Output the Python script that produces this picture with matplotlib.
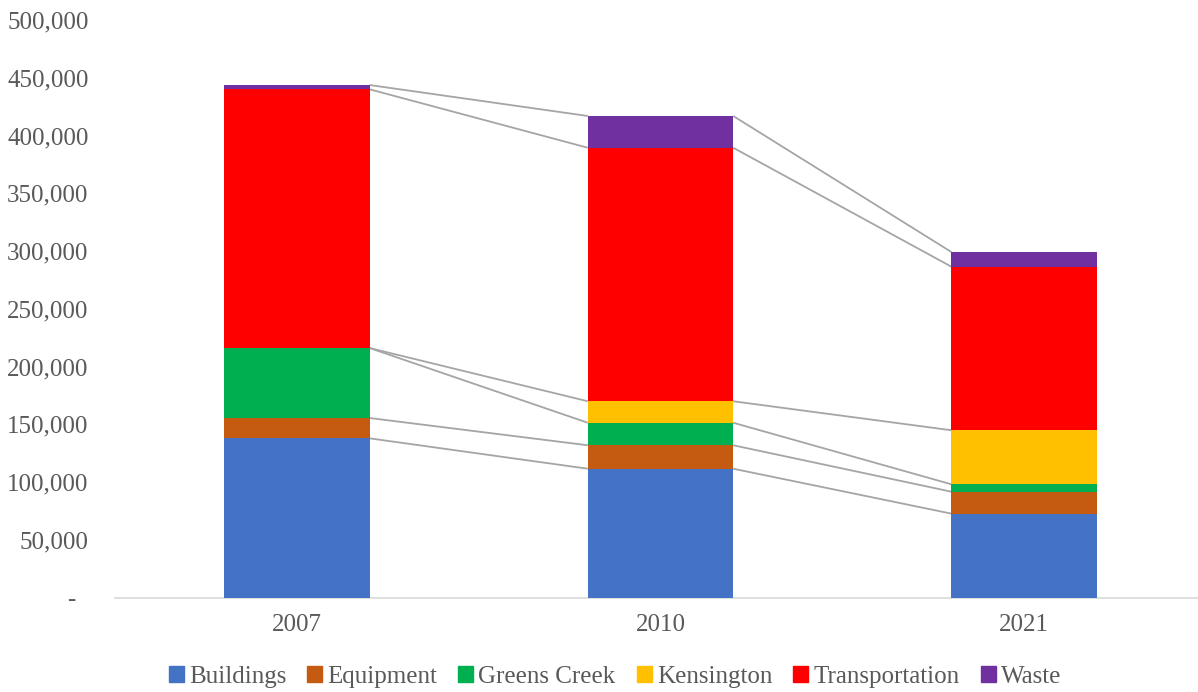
import numpy as np
import matplotlib
matplotlib.use("Agg")
from matplotlib import pyplot as plt
from matplotlib.patches import Patch

years = ["2007", "2010", "2021"]
series = ["Buildings", "Equipment", "Greens Creek", "Kensington", "Transportation", "Waste"]
buildings = [137800, 111500, 72600]
equipment = [17600, 20300, 19000]
greens_creek = [60600, 19500, 6400]
kensington = [0, 18600, 46800]
transportation = [224000, 219500, 141600]
waste = [3700, 27500, 12700]
colors = ["#4472C4", "#C55A11", "#00B050", "#FFC000", "#FF0000", "#7030A0"]
yticks = [0, 50000, 100000, 150000, 200000, 250000, 300000, 350000, 400000, 450000, 500000]

plt.rcParams["font.family"] = ["Liberation Serif", "DejaVu Serif"]

fig = plt.figure(figsize=(11.98, 6.92), dpi=100)
ax = fig.add_axes([115 / 1198, 1 - 597.5 / 692, 1 - 115 / 1198, (597.5 - 20) / 692])

data = np.array([buildings, equipment, greens_creek, kensington, transportation, waste], dtype=float)
x = np.arange(len(years))
width = 0.4
bottom = np.zeros(len(years))
for name, vals, c in zip(series, data, colors):
    ax.bar(x, vals, width, bottom=bottom, color=c, label=name, zorder=3)
    bottom = bottom + vals

# series lines between stacked tops
tops = np.cumsum(data, axis=0)
for row in tops:
    for i in range(len(years) - 1):
        ax.plot([x[i] + width / 2, x[i + 1] - width / 2], [row[i], row[i + 1]],
                color="#A5A5A5", lw=1.3, zorder=2, solid_capstyle="butt")

ax.set_xlim(-0.5, (1198 - 296) / 364)
ax.set_ylim(0, 500000)
ax.set_xticks(x)
ax.set_xticklabels(years)
ax.set_yticks(yticks)
ax.set_yticklabels(["-  " if v == 0 else f"{v:,}" for v in yticks])
ax.tick_params(axis="both", length=0, labelsize=18, labelcolor="#595959")
ax.tick_params(axis="y", pad=19)
ax.tick_params(axis="x", pad=12)
for s in ["top", "right", "left"]:
    ax.spines[s].set_visible(False)
ax.spines["bottom"].set_color("#D9D9D9")
ax.spines["bottom"].set_linewidth(1.2)

handles = [Patch(color=c, label=n) for n, c in zip(series, colors)]
fig.legend(handles=handles, loc="center", bbox_to_anchor=(615 / 1198, 1 - 677 / 692), ncol=6,
           frameon=False, fontsize=18, handlelength=0.6, handleheight=0.6,
           handletextpad=0.2, columnspacing=0.85, labelcolor="#595959")

fig.savefig("out.png", dpi=100)
